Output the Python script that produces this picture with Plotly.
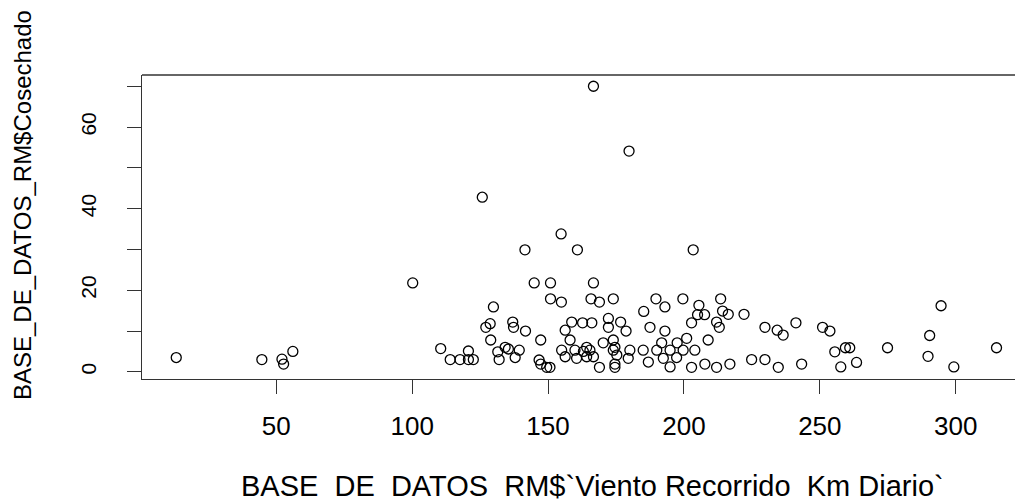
import plotly.graph_objects as go

# Viento Recorrido Km Diario (x) and Cosechado (y)
viento = [
    13.2, 44.7, 52.1, 52.7, 56.1, 100.2,
    110.5, 114.0, 117.6, 120.7, 120.7, 122.5, 125.8, 129.9, 128.7, 127.1,
    137.0, 137.3, 141.7, 128.9, 147.3, 131.5, 132.0, 134.2, 135.4, 137.9,
    139.4, 146.7, 147.3, 149.5, 150.7, 141.5, 144.9, 150.9, 150.9, 154.9,
    154.8,
    160.8, 166.7, 179.8, 166.7, 165.8, 168.9, 174.0, 185.2, 189.7, 193.0,
    199.6, 203.4, 202.8, 205.0, 158.7, 162.7, 166.1, 172.2, 172.2, 176.7,
    178.7, 156.3, 187.5, 193.0, 158.1, 170.3, 174.0, 191.8, 197.5, 201.0,
    155.0, 159.9, 164.2, 165.4, 174.0, 180.1, 185.0, 190.0, 194.9, 199.7,
    204.0, 156.3, 160.5, 164.2, 166.7, 175.3, 179.5, 186.9, 192.4, 194.9,
    197.3, 168.9, 174.6, 174.6, 202.8, 174.6, 163.0,
    213.5, 205.5, 207.6, 214.2, 216.3, 222.1, 212.0, 213.0, 229.8, 234.3,
    236.5, 241.2, 251.0, 253.7, 208.9, 207.7, 212.0, 216.9, 224.9, 229.8,
    234.7, 243.3,
    255.5, 257.7, 259.4, 261.0, 263.5, 274.9, 289.8, 290.4, 294.6, 299.3,
    315.0,
]
cosechado = [
    3.5, 3.0, 3.1, 1.9, 5.0, 21.8,
    5.7, 3.0, 3.0, 5.1, 3.0, 3.0, 42.8, 15.9, 11.8, 10.9,
    12.2, 10.9, 10.0, 7.8, 7.8, 4.9, 3.0, 6.0, 5.6, 3.5,
    5.3, 2.9, 1.9, 1.1, 1.1, 29.9, 21.8, 21.8, 17.9, 17.1,
    33.8,
    29.9, 70.0, 54.1, 21.8, 17.9, 17.1, 17.9, 14.8, 17.9, 15.9,
    17.9, 29.9, 12.0, 14.0, 12.2, 12.0, 12.0, 13.1, 10.9, 12.2,
    10.0, 10.2, 10.9, 10.0, 7.8, 7.1, 7.8, 7.1, 7.1, 8.2,
    5.3, 5.3, 6.0, 5.3, 5.3, 5.3, 5.3, 5.3, 5.3, 5.3,
    5.3, 3.7, 3.3, 3.7, 3.7, 4.1, 3.3, 2.4, 3.3, 1.2,
    3.5, 1.1, 1.9, 1.1, 1.1, 6.0, 5.0,
    17.9, 16.3, 14.0, 14.9, 14.1, 14.1, 12.2, 10.9, 10.9, 10.2,
    9.0, 12.0, 10.9, 10.0, 7.8, 1.9, 1.1, 1.9, 3.0, 3.0,
    1.1, 1.9,
    4.9, 1.2, 5.9, 5.9, 2.3, 5.9, 3.8, 8.9, 16.2, 1.2,
    5.9,
]

x_ticks = [50, 100, 150, 200, 250, 300]
y_ticks = [0, 10, 20, 30, 40, 50, 60, 70]
y_tick_text = ["0", "", "20", "", "40", "", "60", ""]

x_title = "BASE_DE_DATOS_RM$`Viento Recorrido_Km Diario`"
y_title = "BASE_DE_DATOS_RM$Cosechado"

FONT = "Liberation Sans, Arial, sans-serif"

fig = go.Figure()
fig.add_trace(go.Scatter(
    x=viento, y=cosechado, mode="markers",
    marker=dict(symbol="circle-open", size=10, color="black",
                line=dict(width=1.3, color="black")),
    cliponaxis=False, showlegend=False,
))

fig.update_layout(
    width=1015, height=499,
    margin=dict(l=142, r=0, t=75, b=120, pad=0),
    paper_bgcolor="white", plot_bgcolor="white",
    font=dict(family=FONT, size=26, color="black"),
    xaxis=dict(
        range=[0.6, 321.8], showgrid=False, zeroline=False,
        showline=True, linecolor="#333333", linewidth=1.3, mirror=False,
        ticks="outside", ticklen=14, tickwidth=1.3, tickcolor="#333333",
        tickvals=x_ticks, ticktext=[str(v) for v in x_ticks],
        tickfont=dict(size=26),
        ticklabelstandoff=10,
    ),
    yaxis=dict(
        range=[-1.76, 72.76], showgrid=False, zeroline=False,
        showline=True, linecolor="#333333", linewidth=1.3,
        ticks="outside", ticklen=14, tickwidth=1.3, tickcolor="#333333",
        tickvals=y_ticks, ticktext=y_tick_text, tickangle=-90,
        tickfont=dict(size=21),
        ticklabelstandoff=22,
    ),
    shapes=[dict(type="line", xref="paper", yref="paper", x0=0, x1=1,
                 y0=1, y1=1, line=dict(color="#333333", width=1.3))],
    annotations=[
        dict(text=y_title, xref="paper", yref="paper",
             x=-0.1375, y=0.572, xanchor="center", yanchor="middle",
             textangle=-90, showarrow=False,
             font=dict(family=FONT, size=24, color="black")),
        dict(text=x_title, xref="paper", yref="paper",
             x=0.5166, y=-0.352, xanchor="center", yanchor="middle",
             showarrow=False,
             font=dict(family=FONT, size=29, color="black")),
    ],
)

fig.write_html("out.html")
